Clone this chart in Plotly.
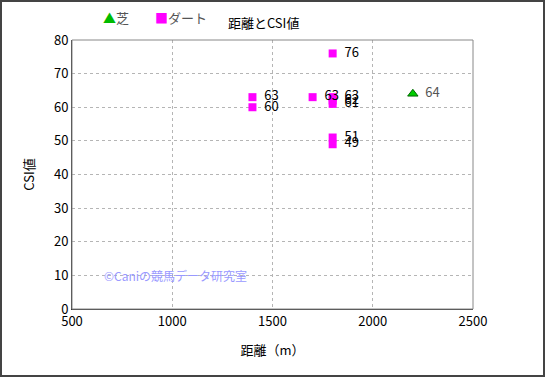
import plotly.graph_objects as go

turf_dist = [2200]
turf_csi = [64]
dirt_dist = [1400, 1400, 1700, 1800, 1800, 1800, 1800, 1800, 1800]
dirt_csi = [63, 60, 63, 63, 62, 61, 76, 51, 49]

FONT = "Noto Sans CJK JP, Liberation Sans, sans-serif"

fig = go.Figure()
fig.add_trace(go.Scatter(
    x=turf_dist, y=turf_csi, mode="markers+text", name="芝",
    text=["  " + str(v) for v in turf_csi], textposition="middle right",
    textfont=dict(color="#555555", size=13, family=FONT),
    marker=dict(symbol="triangle-up", color="#00cc00", size=9,
                line=dict(color="#006600", width=1)),
))
fig.add_trace(go.Scatter(
    x=dirt_dist, y=dirt_csi, mode="markers+text", name="ダート",
    text=["  " + str(v) for v in dirt_csi], textposition="middle right",
    textfont=dict(color="#000000", size=13, family=FONT),
    marker=dict(symbol="square", color="#ff00ff", size=8),
))

fig.update_layout(
    width=545, height=377,
    margin=dict(l=72, r=72, t=40, b=68, autoexpand=False),
    paper_bgcolor="white", plot_bgcolor="white",
    font=dict(family=FONT, size=12, color="#000000"),
    title=dict(text="距離とCSI値", x=(266 - 72) / 401, xanchor="center",
               y=1 - 23 / 377, yanchor="middle",
               font=dict(size=13, family=FONT)),
    showlegend=False,
    xaxis=dict(range=[500, 2500], dtick=500, showgrid=True, gridcolor="#b5b5b5",
               griddash="dot", gridwidth=1, zeroline=False, showline=True,
               linecolor="#333333", linewidth=1, ticks="",
               title=dict(text="距離（m）", font=dict(size=13), standoff=17),
               tickfont=dict(size=13)),
    yaxis=dict(range=[0, 80], dtick=10, showgrid=True, gridcolor="#b5b5b5",
               griddash="dot", gridwidth=1, zeroline=False, showline=True,
               linecolor="#333333", linewidth=1, ticks="",
               title=dict(text="CSI値", font=dict(size=13), standoff=16),
               tickfont=dict(size=13)),
    shapes=[
        dict(type="rect", xref="paper", yref="paper", x0=0, x1=1, y0=0, y1=1,
             line=dict(color="#888888", width=1), layer="above"),
        dict(type="rect", xref="paper", yref="paper",
             x0=-71 / 401, x1=1 + 71 / 401, y0=-67 / 269, y1=1 + 39 / 269,
             line=dict(color="#444444", width=2)),
    ],
    annotations=[
        dict(text="©Caniの競馬データ研究室", x=650, y=10, xref="x", yref="y",
             xanchor="left", yanchor="middle", showarrow=False,
             font=dict(size=12, color="#9999ff", family=FONT)),
        dict(text="<span style='color:#00bb00'>▲</span>芝", x=(101 - 72) / 401,
             y=1 + 22 / 269, xref="paper", yref="paper",
             xanchor="left", yanchor="middle", showarrow=False,
             font=dict(size=13, color="#555555", family=FONT)),
        dict(text="<span style='color:#ff00ff'>■</span>ダート", x=(153 - 72) / 401,
             y=1 + 22 / 269, xref="paper", yref="paper",
             xanchor="left", yanchor="middle", showarrow=False,
             font=dict(size=13, color="#555555", family=FONT)),
    ],
)

fig.write_html("out.html", config={"displayModeBar": False},
               post_script="document.body.style.margin='0';document.body.style.overflow='hidden';")
